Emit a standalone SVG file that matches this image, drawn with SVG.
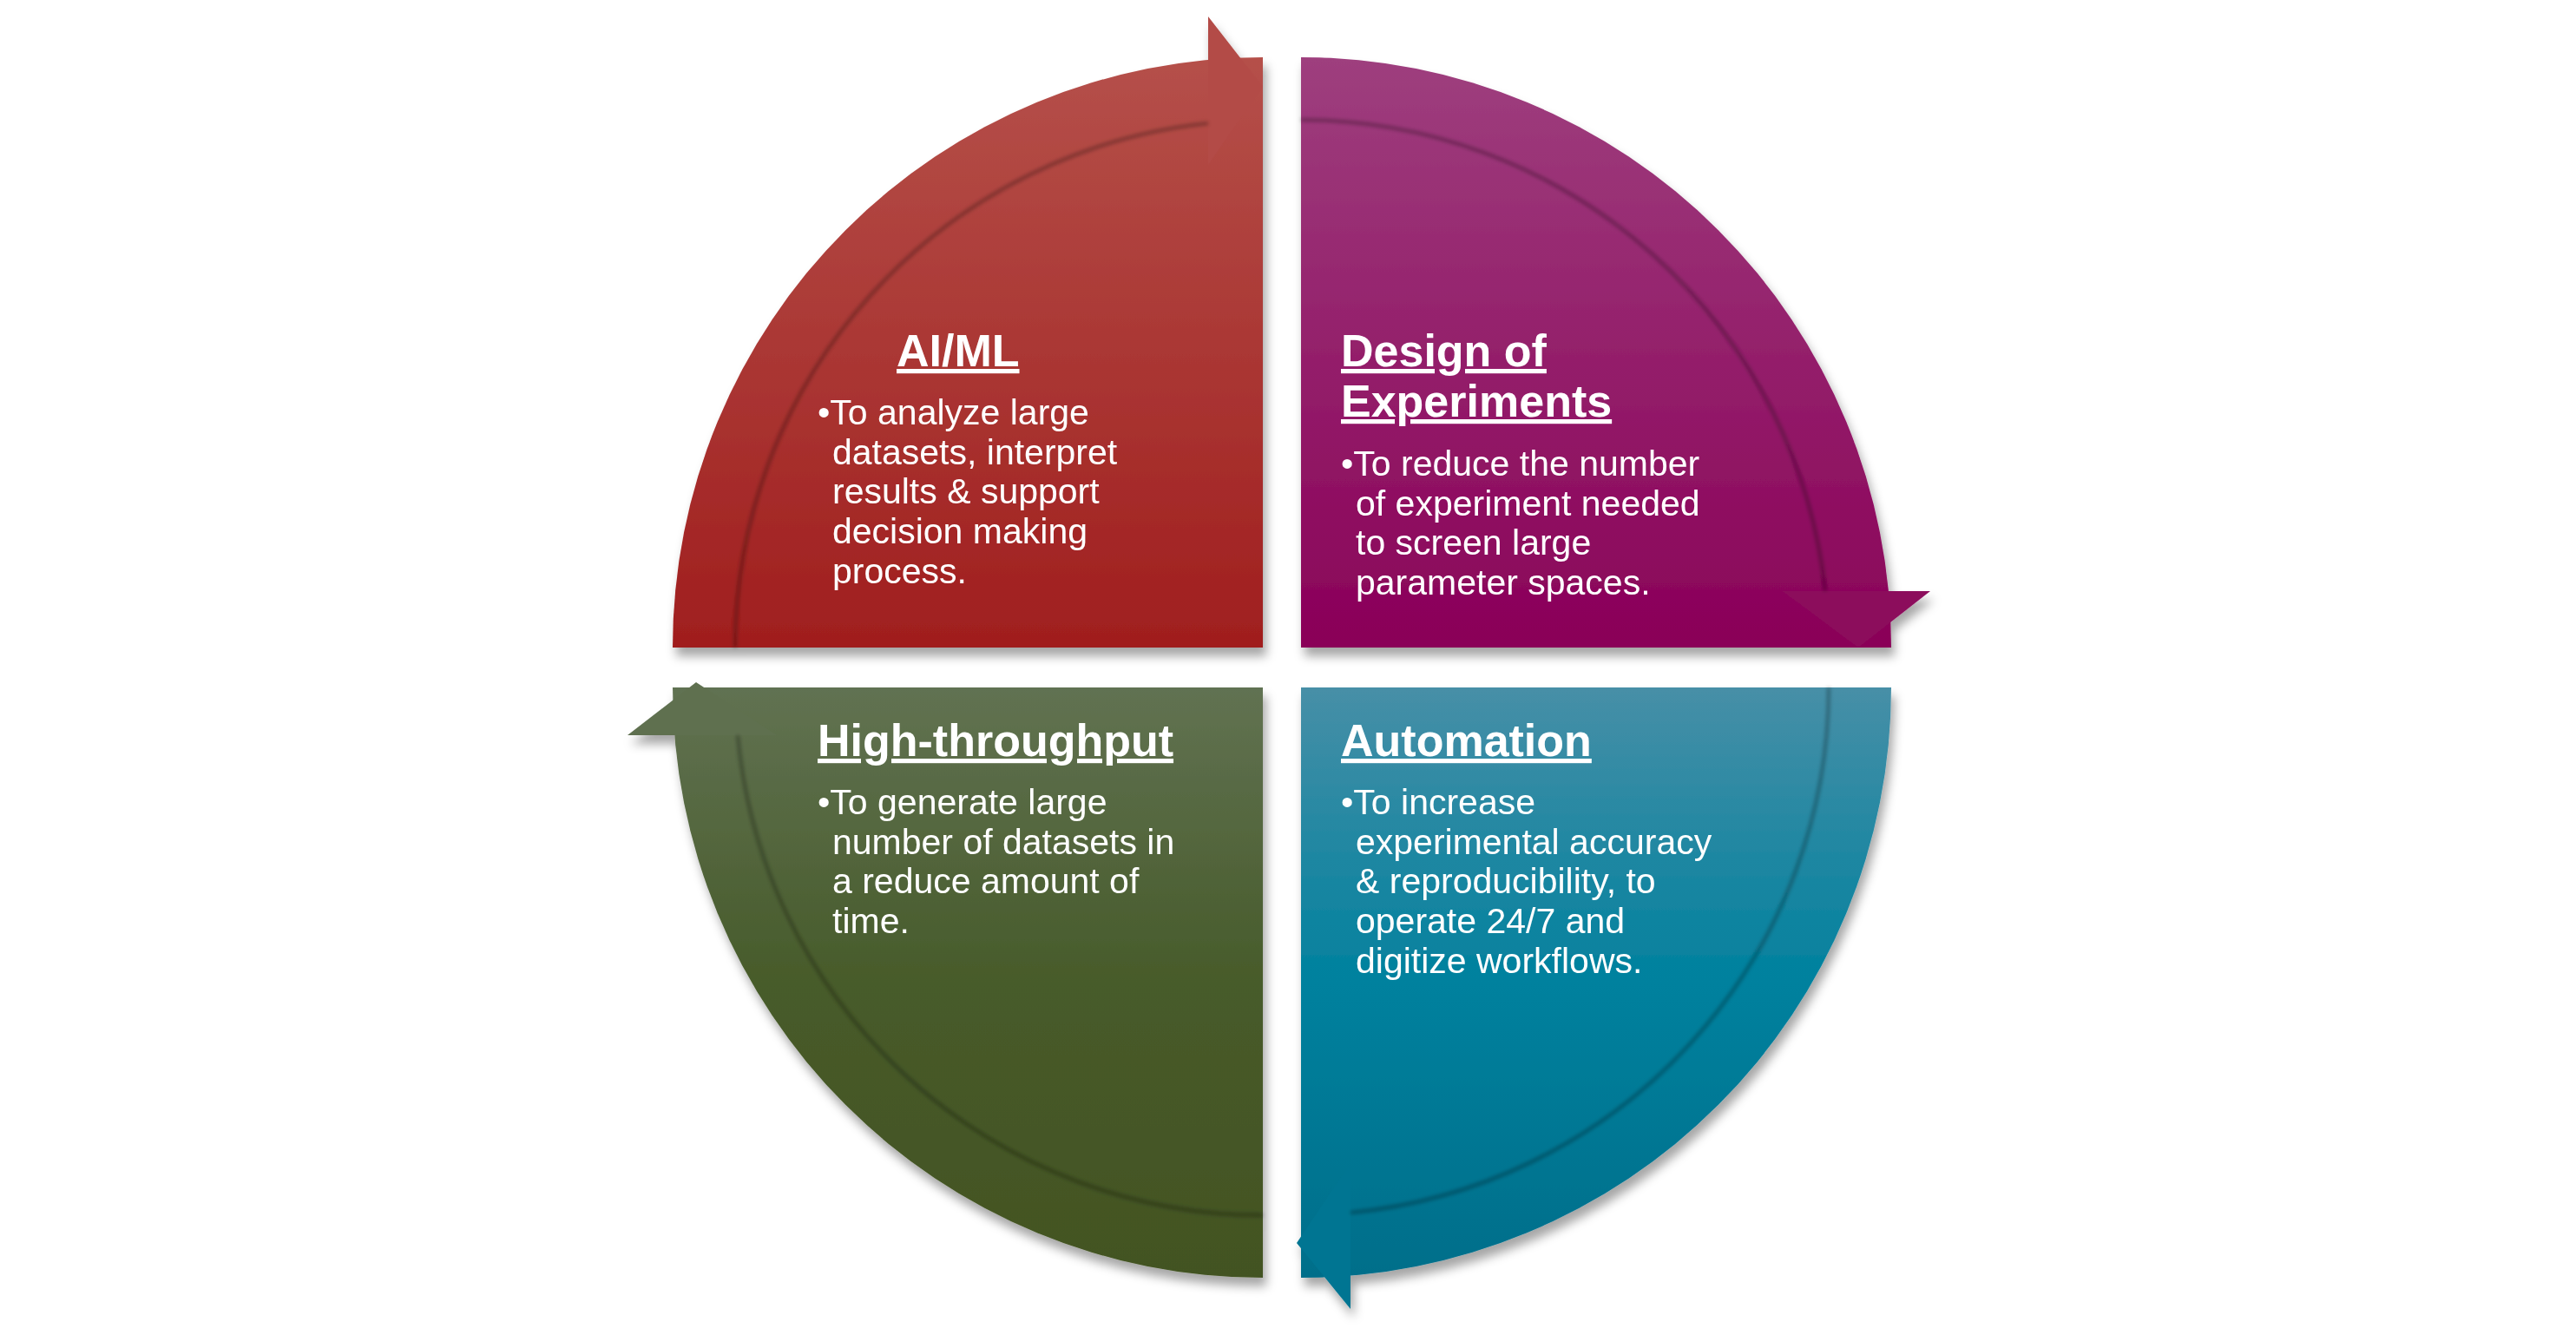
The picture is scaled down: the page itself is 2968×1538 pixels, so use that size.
<svg xmlns="http://www.w3.org/2000/svg" width="2968" height="1538" viewBox="0 0 2968 1538">
<defs>
<linearGradient id="gr" x1="0" y1="0" x2="0" y2="1"><stop offset="0" stop-color="#b5504a"/><stop offset="1" stop-color="#a01e1e"/></linearGradient>
<linearGradient id="gp" x1="0" y1="0" x2="0" y2="1"><stop offset="0" stop-color="#9e3f7e"/><stop offset="1" stop-color="#8a0058"/></linearGradient>
<linearGradient id="gg" x1="0" y1="0" x2="0" y2="1"><stop offset="0" stop-color="#617252"/><stop offset="0.5" stop-color="#475b2a"/><stop offset="1" stop-color="#435322"/></linearGradient>
<linearGradient id="gt" x1="0" y1="0" x2="0" y2="1"><stop offset="0" stop-color="#478fa7"/><stop offset="0.5" stop-color="#00819e"/><stop offset="1" stop-color="#006e8a"/></linearGradient>
<filter id="sh" x="-10%" y="-10%" width="120%" height="130%"><feDropShadow dx="4" dy="10" stdDeviation="6" flood-color="#000" flood-opacity="0.35"/></filter>
<filter id="bl"><feGaussianBlur stdDeviation="2"/></filter>
</defs>
<style>
.band{fill:none;stroke:#000;stroke-opacity:0.3;stroke-width:4;filter:url(#bl)}
.t{font-family:"Liberation Sans",Arial,sans-serif;font-weight:bold;font-size:52px;fill:#fff;text-decoration:underline}
.b{font-family:"Liberation Sans",Arial,sans-serif;font-size:41px;fill:#fff}
</style>
<rect width="2968" height="1538" fill="#fff"/>
<g id="aiml" filter="url(#sh)">
<path d="M1455,746 L775,746 A680,680 0 0 1 1455,66 Z" fill="url(#gr)"/>
<polygon points="1392,19 1455,100 1392,190" fill="#b34b46"/>
<path class="band" d="M847,746 A608,608 0 0 1 1392,142"/>
<text class="t" x="1033" y="422">AI/ML</text>
<text class="b"><tspan x="942" y="489">•To analyze large</tspan><tspan x="959" y="535">datasets, interpret</tspan><tspan x="959" y="580">results &amp; support</tspan><tspan x="959" y="626">decision making</tspan><tspan x="959" y="672">process.</tspan></text>
</g>
<g id="doe" filter="url(#sh)">
<path d="M1499,746 L1499,66 A680,680 0 0 1 2179,746 Z" fill="url(#gp)"/>
<polygon points="2054,681 2224,681 2141,746" fill="#8c0a5c"/>
<path class="band" d="M1499,138 A608,608 0 0 1 2103,681"/>
<text class="t" x="1545" y="422">Design of</text>
<text class="t" x="1545" y="480">Experiments</text>
<text class="b"><tspan x="1545" y="548">•To reduce the number</tspan><tspan x="1562" y="594">of experiment needed</tspan><tspan x="1562" y="639">to screen large</tspan><tspan x="1562" y="685">parameter spaces.</tspan></text>
</g>
<g id="ht" filter="url(#sh)">
<path d="M1455,792 L1455,1472 A680,680 0 0 1 775,792 Z" fill="url(#gg)"/>
<polygon points="723,847 802,786 895,847" fill="#5f7050"/>
<path class="band" d="M1455,1400 A608,608 0 0 1 850,847"/>
<text class="t" x="942" y="871">High-throughput</text>
<text class="b"><tspan x="942" y="938">•To generate large</tspan><tspan x="959" y="984">number of datasets in</tspan><tspan x="959" y="1029">a reduce amount of</tspan><tspan x="959" y="1075">time.</tspan></text>
</g>
<g id="auto" filter="url(#sh)">
<path d="M1499,792 L2179,792 A680,680 0 0 1 1499,1472 Z" fill="url(#gt)"/>
<polygon points="1556,1340 1556,1508 1494,1432" fill="#007592"/>
<path class="band" d="M2107,792 A608,608 0 0 1 1556,1397"/>
<text class="t" x="1545" y="871">Automation</text>
<text class="b"><tspan x="1545" y="938">•To increase</tspan><tspan x="1562" y="984">experimental accuracy</tspan><tspan x="1562" y="1029">&amp; reproducibility, to</tspan><tspan x="1562" y="1075">operate 24/7 and</tspan><tspan x="1562" y="1121">digitize workflows.</tspan></text>
</g>
<g id="connectors"/>
</svg>
